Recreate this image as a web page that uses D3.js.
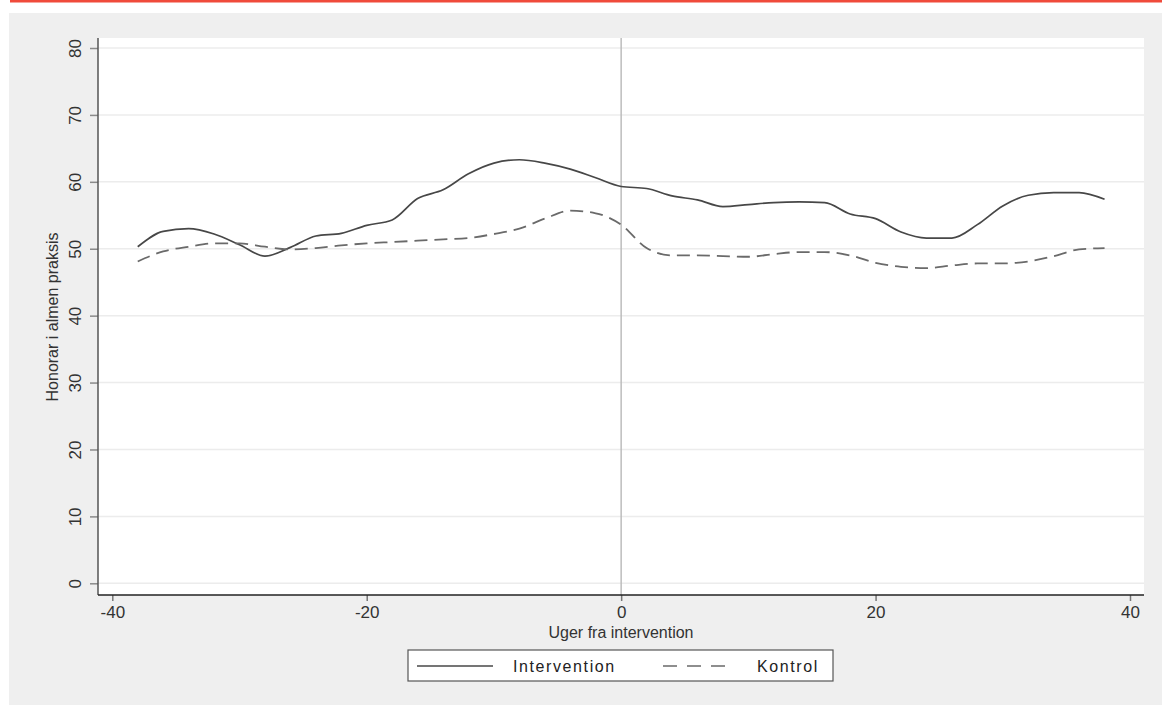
<!DOCTYPE html>
<html>
<head>
<meta charset="utf-8">
<script src="https://cdn.jsdelivr.net/npm/d3@7"></script>
<style>
  body { margin: 0; background: #fff; }
  text { font-family: "Liberation Sans", Arial, sans-serif; }
</style>
</head>
<body>
<div id="d3svg"></div>
<script>
// weeks relative to intervention
let weeks = [-38,-36,-34,-32,-30,-28,-26,-24,-22,-20,-18,-16,-14,-12,-10,-8,-6,-4,-2,0,
             2,4,6,8,10,12,14,16,18,20,22,24,26,28,30,32,34,36,38];

let intervention = [50.3,52.6,53.0,52.2,50.6,48.9,50.2,51.9,52.3,53.5,54.3,57.5,58.8,61.2,62.8,63.3,62.8,61.9,60.6,59.3,
                    59.0,57.9,57.3,56.3,56.6,56.9,57.0,56.9,55.2,54.5,52.5,51.6,51.6,53.6,56.4,58.0,58.4,58.4,57.4];

let kontrol = [48.1,49.6,50.3,50.8,50.8,50.3,49.9,50.1,50.5,50.8,51.0,51.2,51.4,51.6,52.2,53.0,54.5,55.7,55.3,53.6,
               50.1,49.0,49.0,48.9,48.8,49.2,49.5,49.5,49.0,47.9,47.3,47.1,47.5,47.8,47.8,48.1,48.9,49.9,50.1];

let xTicks = [-40,-20,0,20,40];
let yTicks = [0,10,20,30,40,50,60,70,80];

let seriesNames = ["Intervention","Kontrol"];

const width = 1162,
      height = 706;

let svg = d3.select("#d3svg")
    .append("svg")
    .attr("width",width)
    .attr("height",height);

// page frame
svg.append("rect")
    .attr("x",10).attr("y",0)
    .attr("width",width-10).attr("height",2.5)
    .style("fill","#f04b3b");

svg.append("rect")
    .attr("x",9).attr("y",13)
    .attr("width",width-9).attr("height",692)
    .style("fill","#efefef");

let plot = {left:98, right:1144, top:38, bottom:595};

svg.append("rect")
    .attr("x",plot.left).attr("y",plot.top)
    .attr("width",plot.right-plot.left).attr("height",plot.bottom-plot.top)
    .style("fill","#fff");

let x = d3.scaleLinear().domain([-40,40]).range([112.3,1130]);
let y = d3.scaleLinear().domain([0,80]).range([583.3,48]);

// grid
svg.append("g")
    .selectAll("line")
    .data(yTicks)
    .enter().append("line")
    .attr("x1",plot.left).attr("x2",plot.right)
    .attr("y1",d=>y(d)).attr("y2",d=>y(d))
    .style("stroke","#ececec")
    .style("stroke-width","1.5px");

// line at week 0
svg.append("line")
    .attr("x1",x(0)).attr("x2",x(0))
    .attr("y1",plot.top).attr("y2",plot.bottom)
    .style("stroke","#bdbdbd")
    .style("stroke-width","1.5px");

// axes
let yAxis = svg.append("g")
    .attr("transform","translate("+plot.left+",0)")
    .call(d3.axisLeft(y).tickValues(yTicks).tickSize(8).tickPadding(10));

yAxis.select(".domain").remove();
yAxis.selectAll(".tick line").style("stroke","#8a8a8a").style("stroke-width","1.5px");
yAxis.selectAll(".tick text")
    .attr("x",0).attr("dy",null)
    .attr("transform","translate(-23,0) rotate(-90)")
    .attr("text-anchor","middle")
    .attr("dominant-baseline","central")
    .style("font-size","17px")
    .style("fill","#333");

svg.append("line")
    .attr("x1",plot.left).attr("x2",plot.left)
    .attr("y1",plot.top).attr("y2",plot.bottom)
    .style("stroke","#555")
    .style("stroke-width","1.5px");

let xAxis = svg.append("g")
    .attr("transform","translate(0,"+plot.bottom+")")
    .call(d3.axisBottom(x).tickValues(xTicks).tickSize(6).tickPadding(5).tickFormat(d=>String(d)));

xAxis.select(".domain").remove();
xAxis.selectAll(".tick line").style("stroke","#777").style("stroke-width","1.5px");
xAxis.selectAll(".tick text")
    .style("font-size","17px")
    .style("fill","#333");

svg.append("line")
    .attr("x1",plot.left).attr("x2",plot.right)
    .attr("y1",plot.bottom).attr("y2",plot.bottom)
    .style("stroke","#222")
    .style("stroke-width","1.5px");

// axis titles
svg.append("text")
    .attr("x",621).attr("y",638)
    .attr("text-anchor","middle")
    .style("font-size","16px")
    .style("fill","#333")
    .text("Uger fra intervention");

svg.append("text")
    .attr("transform","translate(52,317) rotate(-90)")
    .attr("text-anchor","middle")
    .attr("dominant-baseline","central")
    .style("font-size","16px")
    .style("fill","#333")
    .text("Honorar i almen praksis");

// series
let line = d3.line()
    .x((d,i)=>x(weeks[i]))
    .y(d=>y(d))
    .curve(d3.curveMonotoneX);

svg.append("path")
    .attr("d",line(intervention))
    .style("fill","none")
    .style("stroke","#474747")
    .style("stroke-width","1.7px");

svg.append("path")
    .attr("d",line(kontrol))
    .style("fill","none")
    .style("stroke","#6a6a6a")
    .style("stroke-width","1.8px")
    .style("stroke-dasharray","13,7");

// legend
let legend = svg.append("g");

legend.append("rect")
    .attr("x",408).attr("y",650)
    .attr("width",425).attr("height",31)
    .style("fill","#fff")
    .style("stroke","#555")
    .style("stroke-width","1.2px");

legend.append("line")
    .attr("x1",417).attr("x2",493)
    .attr("y1",666).attr("y2",666)
    .style("stroke","#474747")
    .style("stroke-width","1.5px");

legend.append("line")
    .attr("x1",663).attr("x2",733)
    .attr("y1",666).attr("y2",666)
    .style("stroke","#6a6a6a")
    .style("stroke-width","1.5px")
    .style("stroke-dasharray","14,10");

legend.selectAll("text")
    .data(seriesNames)
    .enter().append("text")
    .attr("x",(d,i)=>i==0 ? 513 : 757)
    .attr("y",672)
    .style("font-size","16px")
    .style("letter-spacing","1.6px")
    .style("fill","#222")
    .text(d=>d);
</script>
</body>
</html>
